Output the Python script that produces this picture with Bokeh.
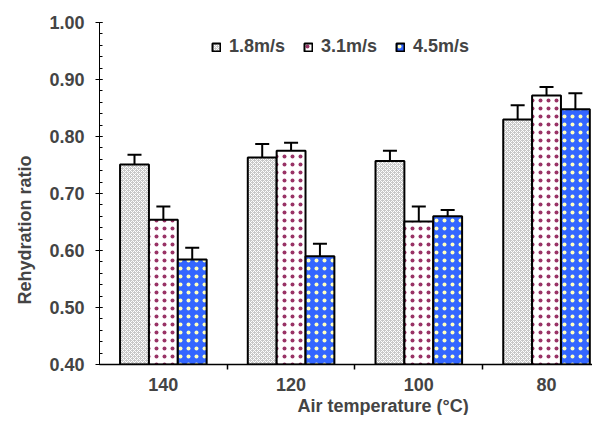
from bokeh.plotting import figure
from bokeh.models import (ColumnDataSource, Range1d, FixedTicker, Whisker, TeeHead,
                          Legend, LegendItem, PrintfTickFormatter, Title)
from bokeh.embed import file_html
from bokeh.resources import INLINE

temps = ["140", "120", "100", "80"]
series = ["1.8m/s", "3.1m/s", "4.5m/s"]
r18 = [0.751, 0.763, 0.757, 0.830]
e18 = [0.017, 0.024, 0.018, 0.025]
r31 = [0.654, 0.775, 0.651, 0.872]
e31 = [0.023, 0.014, 0.026, 0.015]
r45 = [0.584, 0.590, 0.660, 0.848]
e45 = [0.021, 0.022, 0.011, 0.028]
x_title = "Air temperature (°C)"
y_title = "Rehydration ratio"

FONT = "Liberation Sans"
W = 0.226
centers = [i + 0.5 for i in range(len(temps))]

p = figure(width=592, height=415, output_backend="svg", toolbar_location=None,
           x_range=Range1d(0, 3.86), y_range=Range1d(0.4, 1.0),
           min_border_left=98, min_border_right=0, min_border_top=22,
           min_border_bottom=50)
p.outline_line_color = None
p.grid.grid_line_color = None
p.background_fill_color = "white"
p.border_fill_color = "white"

styles = [
    dict(fill_color="#c8c8c8", hatch_pattern="diagonal_cross", hatch_color="white",
         hatch_scale=4, hatch_weight=1),
    dict(fill_color="white", hatch_pattern="dot", hatch_color="#993366",
         hatch_scale=8, hatch_weight=3.5),
    dict(fill_color="#3366ff", hatch_pattern="dot", hatch_color="#ffffc0",
         hatch_scale=8, hatch_weight=3),
]
vals = [r18, r31, r45]
errs = [e18, e31, e45]
offs = [-W, 0.0, W]
items = []
for k in range(3):
    xs = [c + offs[k] for c in centers]
    src = ColumnDataSource(dict(x=xs, top=vals[k],
                                up=[v + e for v, e in zip(vals[k], errs[k])],
                                lo=[v - e for v, e in zip(vals[k], errs[k])]))
    r = p.vbar(x="x", top="top", bottom=0.4, width=W, source=src,
               line_color="black", line_width=2, **styles[k])
    wh = Whisker(base="x", upper="up", lower="lo", source=src,
                 line_color="black", line_width=2,
                 upper_head=TeeHead(size=14, line_color="black", line_width=2),
                 lower_head=TeeHead(size=14, line_color="black", line_width=2))
    p.add_layout(wh)
    items.append(LegendItem(label=series[k], renderers=[r]))

legend = Legend(items=items, orientation="horizontal", location=(112, 307),
                border_line_color=None, background_fill_alpha=0,
                label_text_font=FONT, label_text_font_style="bold",
                label_text_font_size="18px", glyph_width=10, glyph_height=10,
                label_standoff=8, spacing=18, padding=0, margin=0)
p.add_layout(legend, "center")

# x axis
xa = p.xaxis[0]
xa.ticker = FixedTicker(ticks=centers, minor_ticks=[1, 2, 3])
xa.major_label_overrides = {c: t for c, t in zip(centers, temps)}
xa.major_tick_out = 0
xa.major_tick_in = 0
xa.minor_tick_out = 5
xa.minor_tick_in = 0
xa.major_label_standoff = 8
xa.major_label_text_font = FONT
xa.major_label_text_font_style = "bold"
xa.major_label_text_font_size = "18px"
xa.axis_line_color = "black"
xa.axis_line_width = 1.5
xa.minor_tick_line_color = "black"
xa.minor_tick_line_width = 1.5

# y axis
ya = p.yaxis[0]
ya.ticker = FixedTicker(ticks=[0.4, 0.5, 0.6, 0.7, 0.8, 0.9, 1.0],
                        minor_ticks=[round(0.4 + 0.02 * i, 2) for i in range(31)])
ya.formatter = PrintfTickFormatter(format="%.2f")
ya.major_tick_out = 4
ya.major_tick_in = 3
ya.minor_tick_out = 0
ya.minor_tick_in = 3
ya.major_label_standoff = 11
ya.major_label_text_font = FONT
ya.major_label_text_font_style = "bold"
ya.major_label_text_font_size = "18px"
ya.axis_line_color = "black"
ya.major_tick_line_color = "black"
ya.minor_tick_line_color = "black"

xt = Title(text=x_title, align="left", offset=198, standoff=0,
           text_font=FONT, text_font_style="bold", text_font_size="18px")
p.add_layout(xt, "below")
yt = Title(text=y_title, align="left", offset=60, standoff=24,
           text_font=FONT, text_font_style="bold", text_font_size="18px")
p.add_layout(yt, "left")

open("out.html", "w").write(file_html(p, INLINE))
